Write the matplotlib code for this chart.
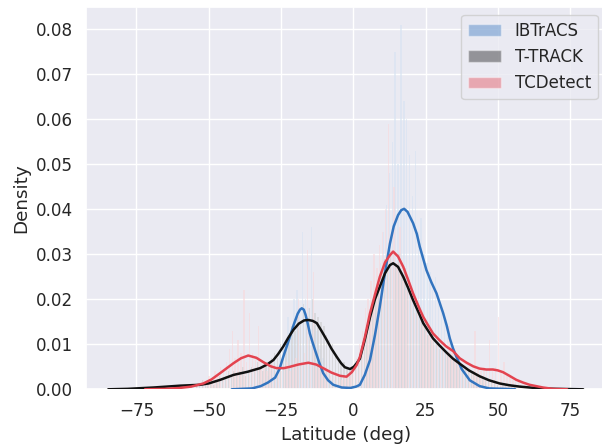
import numpy as np
import matplotlib
matplotlib.use("Agg")
import matplotlib.pyplot as plt
import matplotlib.colors as mcolors
import seaborn as sns

# ---------------- data ----------------
series_names = ["IBTrACS", "T-TRACK", "TCDetect"]
line_colors = ["#3274bf", "#111111", "#e3434f"]

# KDE curves (latitude, density)
ib_lat = [-42, -35, -32, -29.5, -27, -25.5, -24.2, -23, -21.9, -20.5, -19.2, -18.4, -17.8, -17.1,
          -16.5, -15.8, -15, -14.1, -13.2, -11.8, -10.4, -8.7, -6.9, -4, -1, 1, 2.3, 4, 5.8, 7.5,
          9.2, 11, 12.7, 14, 15.5, 16.6, 17.6, 18.8, 20.7, 22, 23, 24.2, 25.3, 27, 28.8, 30, 31.1,
          32.3, 33.4, 34.5, 35.7, 37.5, 40.3, 43.7, 47, 52, 56]
ib_den = [0, 0.0002, 0.0007, 0.0015, 0.0026, 0.0045, 0.0072, 0.0095, 0.0117, 0.0145, 0.0168, 0.0177,
          0.018, 0.0177, 0.0166, 0.0148, 0.0124, 0.0105, 0.0087, 0.006, 0.0036, 0.002, 0.001, 0.0004,
          0.0003, 0.0006, 0.001, 0.0032, 0.0065, 0.012, 0.0184, 0.026, 0.0324, 0.0362, 0.0387,
          0.0398, 0.0401, 0.0394, 0.0369, 0.0345, 0.0317, 0.029, 0.0265, 0.0238, 0.0213, 0.019,
          0.0169, 0.0142, 0.0113, 0.0091, 0.0072, 0.0045, 0.002, 0.0007, 0.0002, 0.0001, 0]

tt_lat = [-84.7, -78, -69, -60, -53, -50, -46, -41.4, -36.5, -32.2, -29.8, -27.6, -26, -24.2, -22.5,
          -20.7, -18.8, -17, -15.5, -14, -12.6, -11, -9.2, -7.5, -5.7, -4.2, -2.9, -1.1, 0.2, 1.2,
          2.3, 4, 5.8, 7.5, 9.2, 11, 12.7, 13.8, 15.5, 17.3, 19, 20.7, 23, 24.2, 25.9, 27.6, 29.9,
          32.2, 34.5, 36.8, 40, 43.7, 47, 50.6, 54, 57.5, 61, 64.5, 70, 79.5]
tt_den = [0, 0.0001, 0.0004, 0.0008, 0.001, 0.0013, 0.0021, 0.0032, 0.0039, 0.0047, 0.0055, 0.0065,
          0.0078, 0.0095, 0.0114, 0.0132, 0.0146, 0.0153, 0.0154, 0.0152, 0.0147, 0.013, 0.011,
          0.009, 0.0072, 0.0058, 0.0049, 0.0045, 0.005, 0.0058, 0.0068, 0.011, 0.016, 0.02, 0.0228,
          0.0258, 0.0276, 0.028, 0.0272, 0.025, 0.0225, 0.0198, 0.0165, 0.0147, 0.013, 0.0113,
          0.0097, 0.0082, 0.0068, 0.0057, 0.0042, 0.0029, 0.002, 0.0013, 0.0009, 0.0006, 0.0004,
          0.0002, 0.0001, 0]

tc_lat = [-72, -65, -60, -56, -51.8, -49, -46, -43.5, -41.4, -38.8, -36.3, -33.5, -31, -28.5, -26.5,
          -24, -21.9, -19, -15.5, -12.8, -10.4, -7.5, -4.6, -2.3, -0.5, 1.2, 2.3, 4, 5.8, 7.5, 9.2,
          11, 12.7, 13.8, 15.5, 17.3, 19, 20.7, 23, 24.2, 25.9, 27.6, 30, 32.2, 34.5, 36.8, 39.2,
          41.5, 43.7, 46, 48.3, 50, 51.8, 54, 56.4, 58.7, 61, 65.6, 69, 74]
tc_den = [0, 0.0001, 0.0003, 0.0006, 0.0013, 0.0022, 0.0036, 0.0048, 0.0058, 0.0069, 0.0075, 0.007,
          0.006, 0.0051, 0.0047, 0.0047, 0.005, 0.0055, 0.0059, 0.0055, 0.0047, 0.0037, 0.003,
          0.0028, 0.0038, 0.0054, 0.0072, 0.0115, 0.0169, 0.021, 0.025, 0.0282, 0.0298, 0.0306,
          0.0295, 0.0272, 0.0243, 0.0213, 0.0178, 0.0161, 0.0142, 0.0124, 0.0108, 0.0095, 0.0085,
          0.0069, 0.0059, 0.0051, 0.0046, 0.0044, 0.0044, 0.0042, 0.0038, 0.003, 0.0021, 0.0015,
          0.001, 0.0004, 0.0001, 0]

# Histograms: 1-degree bins, first lower edge given
ib_hist_start = -40.0
ib_hist = [0, 0, 0, 0, 0.001, 0, 0.001, 0.001, 0.002, 0.002,
           0.003, 0.004, 0.006, 0.005, 0.009, 0.011, 0.008, 0.016, 0.013, 0.02,
           0.022, 0.017, 0.035, 0.02, 0.018, 0.036, 0.014, 0.013, 0.009, 0.007,
           0.005, 0.004, 0.002, 0.002, 0.001, 0.001, 0, 0, 0, 0,
           0, 0.001, 0.001, 0.003, 0.004, 0.008, 0.012, 0.017, 0.022, 0.028,
           0.035, 0.041, 0.048, 0.055, 0.075, 0.05, 0.081, 0.064, 0.06, 0.052,
           0.043, 0.053, 0.035, 0.038, 0.03, 0.028, 0.026, 0.022, 0.025, 0.019,
           0.017, 0.015, 0.012, 0.01, 0.008, 0.006, 0.005, 0.004, 0.003, 0.002,
           0.002, 0.001, 0.001, 0, 0.001, 0, 0, 0, 0, 0]

tt_hist_start = -59.67
tt_hist = [0.001, 0, 0.001, 0.001, 0, 0.001, 0.001, 0.002, 0.001, 0.001,
           0.002, 0.001, 0.002, 0.003, 0.002, 0.003, 0.004, 0.003, 0.004, 0.003,
           0.004, 0.005, 0.003, 0.004, 0.005, 0.004, 0.006, 0.005, 0.004, 0.006,
           0.006, 0.007, 0.008, 0.007, 0.01, 0.009, 0.011, 0.012, 0.014, 0.013,
           0.016, 0.015, 0.019, 0.016, 0.018, 0.02, 0.017, 0.016, 0.015, 0.014,
           0.012, 0.011, 0.01, 0.008, 0.007, 0.006, 0.006, 0.005, 0.004, 0.005,
           0.005, 0.006, 0.008, 0.01, 0.013, 0.016, 0.02, 0.022, 0.024, 0.026,
           0.029, 0.027, 0.031, 0.03, 0.028, 0.03, 0.026, 0.027, 0.023, 0.022,
           0.02, 0.018, 0.017, 0.015, 0.014, 0.012, 0.011, 0.011, 0.01, 0.009,
           0.009, 0.008, 0.008, 0.007, 0.007, 0.006, 0.006, 0.005, 0.005, 0.004,
           0.004, 0.004, 0.003, 0.003, 0.003, 0.002, 0.002, 0.002, 0.002, 0.001,
           0.001, 0.001, 0.001, 0.001, 0.001, 0.001, 0, 0.001, 0, 0]

tc_hist_start = -55.33
tc_hist = [0, 0.001, 0, 0.002, 0.001, 0.003, 0.002, 0.004, 0.003, 0.005,
           0.004, 0.006, 0.009, 0.013, 0.007, 0.011, 0.008, 0.022, 0.006, 0.017,
           0.008, 0.007, 0.014, 0.005, 0.006, 0.004, 0.005, 0.006, 0.004, 0.005,
           0.004, 0.005, 0.006, 0.004, 0.005, 0.007, 0.02, 0.006, 0.008, 0.031,
           0.006, 0.026, 0.005, 0.006, 0.004, 0.005, 0.004, 0.003, 0.004, 0.003,
           0.003, 0.002, 0.003, 0.003, 0.004, 0.005, 0.007, 0.01, 0.013, 0.018,
           0.02, 0.024, 0.03, 0.027, 0.032, 0.035, 0.04, 0.059, 0.031, 0.045,
           0.028, 0.036, 0.024, 0.022, 0.025, 0.02, 0.017, 0.019, 0.015, 0.014,
           0.013, 0.012, 0.011, 0.01, 0.01, 0.009, 0.009, 0.008, 0.014, 0.008,
           0.007, 0.006, 0.006, 0.005, 0.005, 0.005, 0.004, 0.013, 0.005, 0.004,
           0.005, 0.004, 0.011, 0.004, 0.005, 0.016, 0.004, 0.006, 0.003, 0.003,
           0.002, 0.002, 0.002, 0.001, 0.001, 0.001, 0, 0.001, 0, 0]

x_ticks = [-75, -50, -25, 0, 25, 50, 75]
y_ticks = [0.00, 0.01, 0.02, 0.03, 0.04, 0.05, 0.06, 0.07, 0.08]

# ---------------- plot ----------------
sns.set_theme(style="darkgrid", font_scale=1.1)
plt.rcParams['font.family'] = ['DejaVu Sans']

fig = plt.figure(figsize=(6.02, 4.45), dpi=100)
ax = fig.add_axes([86 / 602, 55.7 / 445, 520 / 602, 382.6 / 445])

hists = [(ib_hist_start, ib_hist), (tt_hist_start, tt_hist), (tc_hist_start, tc_hist)]
kdes = [(ib_lat, ib_den), (tt_lat, tt_den), (tc_lat, tc_den)]

white = np.array([1.0, 1.0, 1.0])
for name, col, (start, h) in zip(series_names, line_colors, hists):
    edges = start + np.arange(len(h))
    rgb = np.array(mcolors.to_rgb(col))
    bar_col = 0.2 * rgb + 0.8 * white  # whitish bars with a hint of series colour
    ax.bar(edges + 0.5, h, width=0.5, align='center', color=bar_col, alpha=0.6,
           linewidth=0, zorder=1)
    # legend proxy, coloured like the reference legend patches
    ax.bar([0], [0], width=0, color=col, alpha=0.4, label=name, edgecolor='white')

for col, (lx, ly) in zip(line_colors, kdes):
    ax.plot(lx, ly, color=col, lw=1.8, zorder=3, solid_capstyle='round')

ax.set_xlim(-92.4, 87.4)
ax.set_ylim(0, 0.085)
ax.set_xticks(x_ticks)
ax.set_yticks(y_ticks)
ax.set_yticklabels([f"{v:.2f}" for v in y_ticks])
ax.set_xlabel("Latitude (deg)")
ax.set_ylabel("Density")
ax.legend(loc="upper right", fontsize=12)

fig.savefig("out.png", dpi=100)
